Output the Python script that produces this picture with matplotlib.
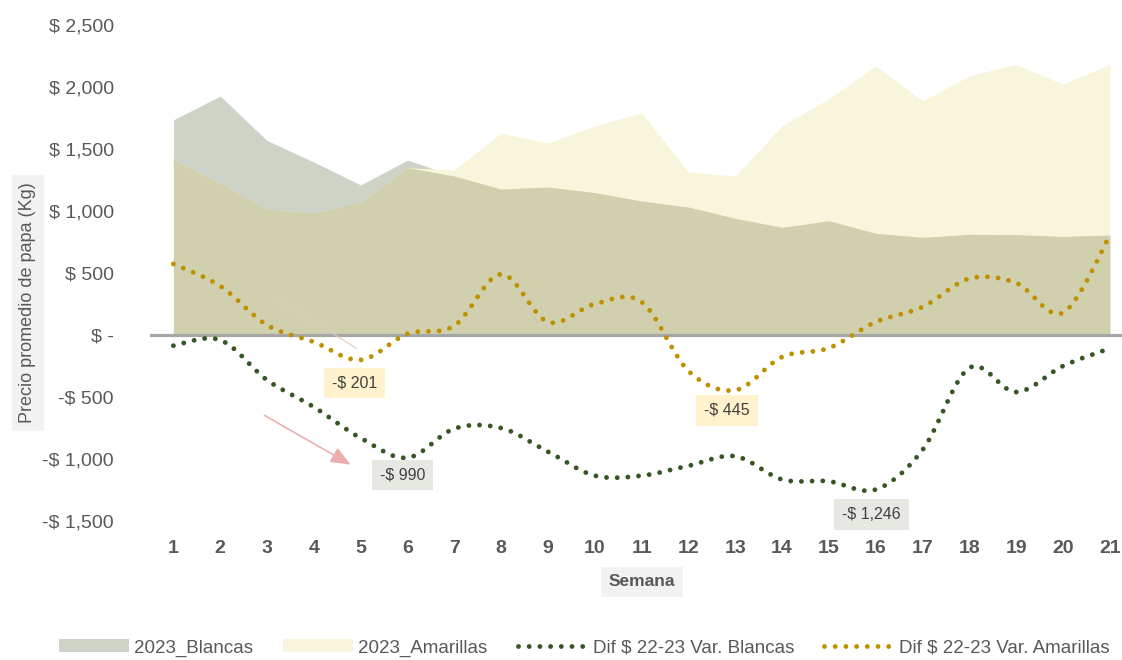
import matplotlib
matplotlib.use("Agg")
import matplotlib.pyplot as plt
from matplotlib.path import Path
from matplotlib.patches import PathPatch, Patch
from matplotlib.lines import Line2D
from matplotlib.ticker import FuncFormatter
import numpy as np

plt.rcParams['font.family'] = ['Liberation Sans', 'DejaVu Sans']

semanas = list(range(1, 22))
blancas_2023 = [1735, 1927, 1568, 1395, 1210, 1411, 1282, 1177, 1194, 1148, 1081,
                1032, 941, 868, 922, 820, 788, 812, 809, 796, 806]
amarillas_2023 = [1420, 1225, 1016, 984, 1073, 1350, 1330, 1629, 1548, 1686, 1790,
                  1315, 1282, 1686, 1906, 2169, 1887, 2091, 2183, 2022, 2183]
dif_blancas = [-86, -40, -363, -581, -831, -990, -755, -750, -941, -1134, -1134,
               -1055, -978, -1165, -1180, -1246, -927, -265, -460, -250, -108]
dif_amarillas = [573, 395, 80, -56, -201, 10, 75, 490, 105, 250, 266,
                 -290, -445, -177, -105, 105, 226, 455, 420, 180, 800]

c_blancas = '#CDD3C7'
c_amarillas = '#F8F5DD'
c_overlap = '#D0D0AE'
c_dif_b = '#375623'
c_dif_a = '#BF9000'
c_text = '#595959'


def smooth_path(x, y):
    # excel style smoothed line: bezier through every point
    pts = np.column_stack([x, y]).astype(float)
    n = len(pts)
    verts = [pts[0]]
    codes = [Path.MOVETO]
    for i in range(n - 1):
        p0 = pts[max(i - 1, 0)]
        p1 = pts[i]
        p2 = pts[i + 1]
        p3 = pts[min(i + 2, n - 1)]
        verts += [p1 + (p2 - p0) / 6, p2 - (p3 - p1) / 6, p2]
        codes += [Path.CURVE4] * 3
    return Path(verts, codes)


fig = plt.figure(figsize=(11.22, 6.6), dpi=100)
ax = fig.add_axes([150 / 1122, 1 - 521 / 660, 972 / 1122, 496 / 660])

b = np.array(blancas_2023)
a = np.array(amarillas_2023)
ax.fill_between(semanas, 0, b, color=c_blancas, lw=0, zorder=1)
ax.fill_between(semanas, 0, a, color=c_amarillas, lw=0, zorder=1)
ax.fill_between(semanas, 0, np.minimum(a, b), color=c_overlap, lw=0, zorder=2)

ax.axhline(0, color='#A6A6A6', lw=2.3, zorder=3)

dots = (0, (0.001, 2.2))
for serie, col in [(dif_blancas, c_dif_b), (dif_amarillas, c_dif_a)]:
    pp = PathPatch(smooth_path(semanas, serie), fill=False, edgecolor=col, lw=3.5,
                   linestyle=dots, capstyle='round', zorder=4)
    ax.add_patch(pp)

# labels of the minimums
etiquetas = [
    (5, dif_amarillas[4], -186, -0.13, '#FFF2CC'),
    (6, dif_blancas[5], -139, -0.11, '#E6E9E1'),
    (13, dif_amarillas[12], -160, -0.18, '#FFF2CC'),
    (16, dif_blancas[15], -198, -0.09, '#E6E9E1'),
]
for sem, val, dy, dx, bg in etiquetas:
    ax.text(sem + dx, val + dy, '-$ {:,}'.format(abs(val)), ha='center', va='center',
            fontsize=11.5, color='#404040', zorder=5,
            bbox=dict(boxstyle='square,pad=0.5', fc=bg, ec='none'))

ax.set_xlim(0.5, 21.26)
ax.set_ylim(-1500, 2500)
ax.set_yticks(range(-1500, 2501, 500))


def fmt(v, pos):
    if v == 0:
        return '$ -'
    if v < 0:
        return '-$ {:,.0f}'.format(-v)
    return '$ {:,.0f}'.format(v)


ax.yaxis.set_major_formatter(FuncFormatter(fmt))
ax.set_xticks(semanas)
ax.tick_params(axis='x', length=0, pad=14, labelsize=14, labelcolor=c_text)
ax.tick_params(axis='y', length=0, pad=26, labelsize=14, labelcolor=c_text)
for t in ax.get_xticklabels():
    t.set_fontweight('bold')
for s in ax.spines.values():
    s.set_visible(False)

fig.text(28 / 1122, 1 - 303 / 660, 'Precio promedio de papa (Kg)', rotation=90,
         ha='center', va='center', fontsize=13, color=c_text,
         bbox=dict(boxstyle='square,pad=0.4', fc='#F2F2F2', ec='none'))
fig.text(642 / 1122, 1 - 582 / 660, 'Semana', ha='center', va='center',
         fontsize=12.5, fontweight='bold', color=c_text,
         bbox=dict(boxstyle='square,pad=0.45', fc='#F2F2F2', ec='none'))

# leftover arrows from the original sheet
ax.annotate('', xy=(359 / 1122, 1 - 350 / 660), xytext=(275 / 1122, 1 - 297 / 660),
            xycoords='figure fraction', textcoords='figure fraction',
            arrowprops=dict(arrowstyle='-', color='#E3C8BC', lw=0.8))
ax.annotate('', xy=(353 / 1122, 1 - 466 / 660), xytext=(262 / 1122, 1 - 414 / 660),
            xycoords='figure fraction', textcoords='figure fraction',
            arrowprops=dict(arrowstyle='-|>,head_length=1.2,head_width=0.5',
                            color='#EBAFAF', lw=1.2))

handles = [
    Patch(facecolor=c_blancas, edgecolor='none'),
    Patch(facecolor=c_amarillas, edgecolor='none'),
    Line2D([], [], color=c_dif_b, lw=3.5, ls=dots, dash_capstyle='round'),
    Line2D([], [], color=c_dif_a, lw=3.5, ls=dots, dash_capstyle='round'),
]
labels = ['2023_Blancas', '2023_Amarillas', 'Dif $ 22-23 Var. Blancas',
          'Dif $ 22-23 Var. Amarillas']
leg = fig.legend(handles, labels, loc='center', bbox_to_anchor=(0.521, 1 - 648 / 660),
                 ncol=4, frameon=False, fontsize=13.5, handlelength=3.7,
                 handletextpad=0.3, columnspacing=1.6, handleheight=0.7)
for t in leg.get_texts():
    t.set_color(c_text)

fig.savefig('out.png', dpi=100)
